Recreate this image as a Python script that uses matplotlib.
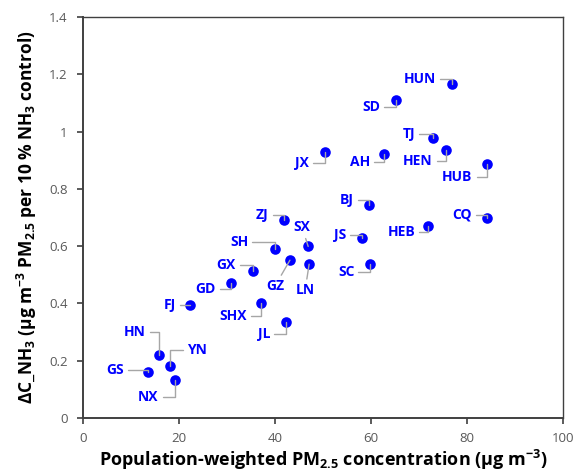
import matplotlib
matplotlib.use("Agg")
import matplotlib.pyplot as plt

provinces = ["HUN", "SD", "TJ", "HEN", "AH", "JX", "HUB", "BJ", "ZJ", "CQ", "HEB", "JS",
             "SX", "SH", "GZ", "LN", "SC", "GX", "GD", "SHX", "FJ", "JL", "HN", "YN", "GS", "NX"]
pm25 = [76.9, 65.2, 72.9, 75.6, 62.7, 50.4, 84.2, 59.6, 41.9, 84.2, 71.9, 58.1,
        46.9, 40.0, 43.1, 47.1, 59.8, 35.4, 30.8, 37.1, 22.3, 42.3, 15.8, 18.1, 13.5, 19.2]
dc_nh3 = [1.167, 1.111, 0.979, 0.934, 0.923, 0.927, 0.888, 0.742, 0.693, 0.700, 0.669, 0.627,
          0.599, 0.589, 0.551, 0.537, 0.537, 0.512, 0.470, 0.401, 0.394, 0.334, 0.219, 0.181, 0.160, 0.132]

# label-centre offsets from the point in pixels (dx right, dy up) and leader style
offsets = {
    "HUN": (-32, 5, "angle"), "SD": (-25, -7, "angle"), "TJ": (-24, 4, "angle"),
    "HEN": (-28, -11, "angle"), "AH": (-24, -8, "angle"), "JX": (-23, -11, "angle"),
    "HUB": (-30, -13, "angle"), "BJ": (-22, 5, "angle"), "ZJ": (-22, 5, "angle"),
    "CQ": (-25, 3, "angle"), "HEB": (-27, -6, "angle"), "JS": (-22, 3, "angle"),
    "SX": (-6, 19, "line"), "SH": (-36, 7, "angle"), "GZ": (-15, -26, "line"),
    "LN": (-4, -26, "line"), "SC": (-24, -8, "angle"), "GX": (-27, 6, "angle"),
    "GD": (-25, -6, "angle"), "SHX": (-28, -13, "angle"), "FJ": (-20, 0, "angle"),
    "JL": (-22, -12, "angle"), "HN": (-24, 23, "angle"), "YN": (27, 16, "angle"),
    "GS": (-33, 2, "angle"), "NX": (-27, -17, "angle"),
}

plt.rcParams['font.family'] = ['Open Sans', 'DejaVu Sans']

fig = plt.figure(figsize=(5.74, 4.76), dpi=100)
ax = fig.add_axes([0.1446, 0.1218, 0.8364, 0.8425])

ax.scatter(pm25, dc_nh3, s=58, color='#0000FF', zorder=3, linewidths=0)

for name, x, y in zip(provinces, pm25, dc_nh3):
    dx, dy, style = offsets[name]
    if style == "angle":
        cs = "angle,angleA=0,angleB=90,rad=0"
    else:
        cs = "arc3,rad=0"
    ax.annotate(name, xy=(x, y), xytext=(dx * 0.72, dy * 0.72), textcoords='offset points',
                ha='center', va='center',
                fontsize=10, fontweight='bold', color='#0000FF',
                arrowprops=dict(arrowstyle='-', color='#A6A6A6', lw=1.0,
                                connectionstyle=cs, shrinkA=1, shrinkB=0),
                zorder=4)

ax.set_xlim(0, 100)
ax.set_ylim(0, 1.4)
ax.set_xticks([0, 20, 40, 60, 80, 100])
ax.set_yticks([0, 0.2, 0.4, 0.6, 0.8, 1.0, 1.2, 1.4])
ax.set_yticklabels(["0", "0.2", "0.4", "0.6", "0.8", "1", "1.2", "1.4"])
ax.tick_params(axis='both', direction='out', length=4, width=1.2, color='#404040',
               labelsize=9.5, labelcolor='#595959')
ax.tick_params(axis='x', pad=6)
ax.tick_params(axis='y', pad=7)

for side in ['left', 'bottom']:
    ax.spines[side].set_color('#404040')
    ax.spines[side].set_linewidth(1.4)
for side in ['top', 'right']:
    ax.spines[side].set_color('#404040')
    ax.spines[side].set_linewidth(1.0)

ax.set_xlabel(r'Population-weighted PM$\mathregular{_{2.5}}$ concentration (µg m$\mathregular{^{-3}}$)',
              fontsize=13, fontweight='bold', color='black', labelpad=2)
ax.set_ylabel(r'ΔC_NH$\mathregular{_3}$ (µg m$\mathregular{^{-3}}$ PM$\mathregular{_{2.5}}$ per 10 % NH$\mathregular{_3}$ control)',
              fontsize=12.5, fontweight='bold', color='black', labelpad=7)

fig.savefig('out.png', dpi=100)
